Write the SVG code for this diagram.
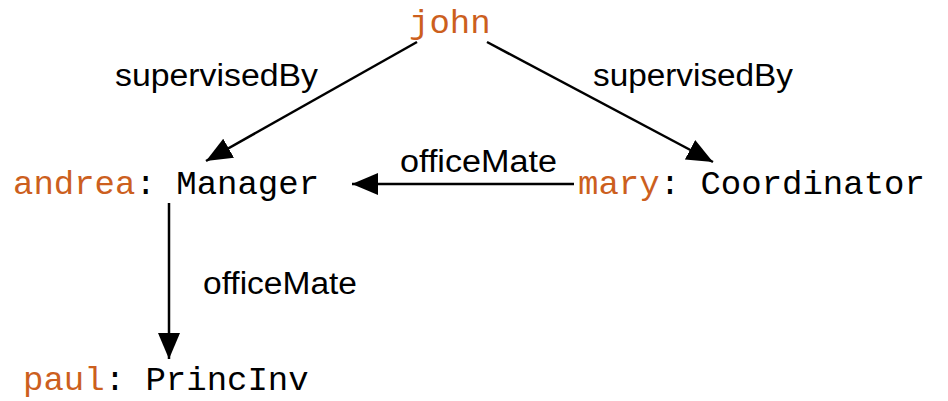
<svg xmlns="http://www.w3.org/2000/svg" width="948" height="401" viewBox="0 0 948 401">
<defs>
<marker id="arr" markerUnits="userSpaceOnUse" markerWidth="30" markerHeight="24" refX="26" refY="11" orient="auto">
<path d="M0,0 L26,11 L0,22 Z" fill="#000"/>
</marker>
</defs>
<style>
.node{font-family:"Liberation Mono","Courier New",monospace;font-size:34px;fill:#000;}
.name{fill:#cc5f1e;}
.lbl{font-family:"Liberation Sans",Arial,Helvetica,sans-serif;font-size:31px;fill:#000;}
.edge{stroke:#000;stroke-width:2.5;fill:none;marker-end:url(#arr);}
</style>
<rect width="948" height="401" fill="#fff"/>
<g id="edges">
<line class="edge" x1="417" y1="42" x2="206" y2="161"/>
<line class="edge" x1="487" y1="42" x2="713" y2="162"/>
<line class="edge" x1="574" y1="184" x2="352" y2="184"/>
<line class="edge" x1="169" y1="203" x2="169" y2="359"/>
<text class="lbl" x="115" y="86" textLength="203" lengthAdjust="spacingAndGlyphs">supervisedBy</text>
<text class="lbl" x="593" y="86" textLength="200" lengthAdjust="spacingAndGlyphs">supervisedBy</text>
<text class="lbl" x="400" y="172" textLength="157" lengthAdjust="spacingAndGlyphs">officeMate</text>
<text class="lbl" x="203" y="294" textLength="154" lengthAdjust="spacingAndGlyphs">officeMate</text>
</g>
<g id="john"><text class="node name" x="409" y="33">john</text></g>
<g id="andrea"><text class="node" x="13" y="194"><tspan class="name">andrea</tspan>: Manager</text></g>
<g id="mary"><text class="node" x="578" y="194"><tspan class="name">mary</tspan>: Coordinator</text></g>
<g id="paul"><text class="node" x="23" y="390"><tspan class="name">paul</tspan>: PrincInv</text></g>
</svg>
